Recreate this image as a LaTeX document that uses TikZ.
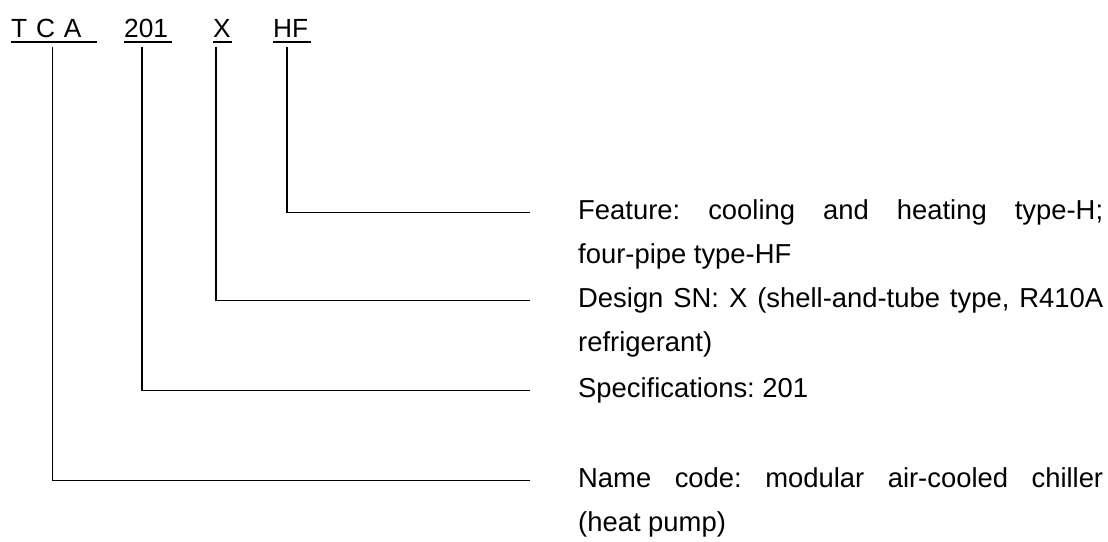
\documentclass[tikz,border=0pt]{standalone}
\usepackage{fontspec}
\setmainfont{Liberation Sans}
\usetikzlibrary{positioning}
\frenchspacing

\begin{document}
\begin{tikzpicture}[x=1pt,y=-1pt,
    code/.style={inner sep=0pt, anchor=base west, align=left,
                 font=\fontsize{26.3}{30}\selectfont},
    desc/.style={inner sep=0pt, anchor=base west, text width=525pt, align=justify,
                 font=\fontsize{27.4}{44}\selectfont},
    lead/.style={line width=1.3pt}]
  \useasboundingbox (0,0) rectangle (1108,541);

  % model code
  \node[code, text width=86pt] (tca)  at (11,37)  {T C A};
  \node[code, text width=48pt] (n201) at (124,37) {201};
  \node[code, text width=19pt] (x)    at (213,37) {X};
  \node[code, text width=38pt] (hf)   at (273,37) {HF};
  \foreach \c in {tca,n201,x,hf}
    \draw[lead] ([yshift=-5pt]\c.base west) -- ([yshift=-5pt]\c.base east);

  % meanings
  \node[desc] (dfeat) at (578,219) {Feature: cooling and heating type-H;\linebreak four-pipe type-HF};
  \node[desc] (ddes)  at (578,307) {Design SN: X (shell-and-tube type, R410A\linebreak refrigerant)};
  \node[desc] (dspec) at (578,397) {Specifications: 201};
  \node[desc] (dname) at (578,487) {Name code: modular air-cooled chiller\linebreak (heat pump)};

  \coordinate (efeat) at ([shift={(-48pt,6.5pt)}]dfeat.base west);
  \coordinate (edes)  at ([shift={(-48pt,6.5pt)}]ddes.base west);
  \coordinate (espec) at ([shift={(-48pt,6.5pt)}]dspec.base west);
  \coordinate (ename) at ([shift={(-48pt,6.5pt)}]dname.base west);

  \draw[lead] ([shift={(14pt,-10pt)}]hf.base west)    |- (efeat);
  \draw[lead] ([shift={(3pt,-10pt)}]x.base west)      |- (edes);
  \draw[lead] ([shift={(18pt,-10pt)}]n201.base west)  |- (espec);
  \draw[lead] ([shift={(41.7pt,-10pt)}]tca.base west) |- (ename);
\end{tikzpicture}
\end{document}
